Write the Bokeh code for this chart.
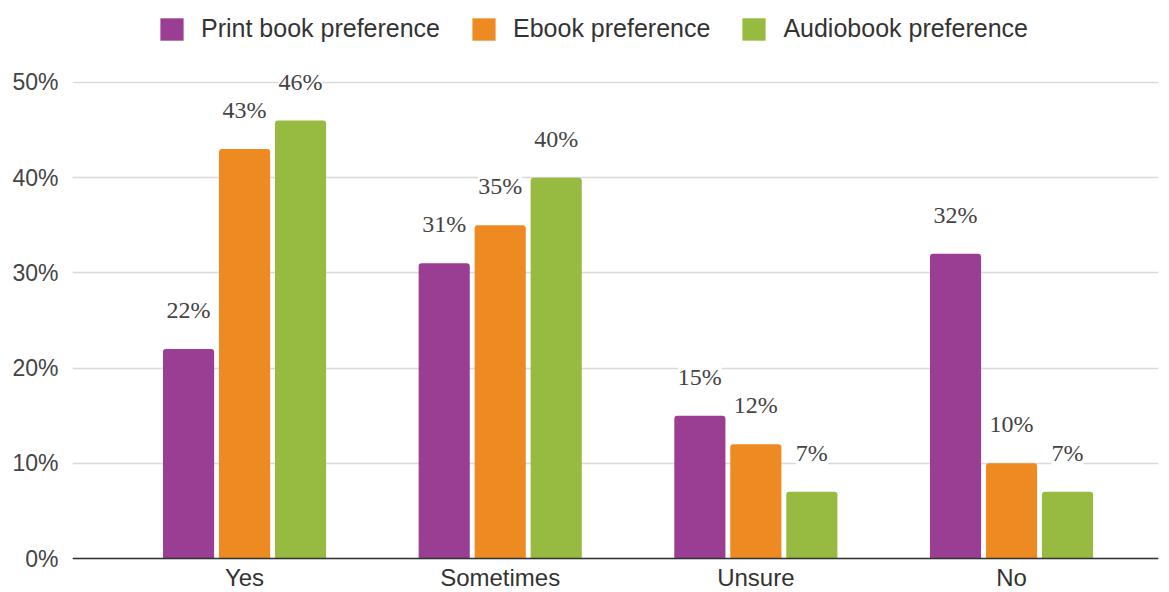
from bokeh.plotting import figure
from bokeh.models import (ColumnDataSource, Range1d, Legend, LegendItem, LabelSet,
                          FixedTicker, PrintfTickFormatter, Span)
from bokeh.core.properties import value
from bokeh.embed import file_html
from bokeh.resources import INLINE

# Survey answers and the share of respondents (percent) for each format
categories = ["Yes", "Sometimes", "Unsure", "No"]
print_pref = [22, 31, 15, 32]
ebook_pref = [43, 35, 12, 10]
audio_pref = [46, 40, 7, 7]
series_names = ["Print book preference", "Ebook preference", "Audiobook preference"]
colors = ["#993e93", "#ee8a22", "#96bb40"]
y_ticks = [0, 10, 20, 30, 40, 50]

W, H = 1169, 592
# The frame covers the whole height so the legend and category labels can live inside it
p = figure(width=W, height=H, output_backend="svg", toolbar_location=None,
           x_range=Range1d(-0.673, 3.575), y_range=Range1d(-3.571, 58.61),
           min_border_left=72, min_border_right=11, min_border_top=0,
           min_border_bottom=0)
p.outline_line_color = None
p.background_fill_color = "white"
p.border_fill_color = "white"

xs = list(range(len(categories)))
offsets = [-0.219, 0.0, 0.219]
renderers = []
for name, vals, col, off in zip(series_names, [print_pref, ebook_pref, audio_pref], colors, offsets):
    src = ColumnDataSource(dict(x=[x + off for x in xs], top=vals,
                                label=[f"{v}%" for v in vals]))
    r = p.vbar(x="x", top="top", width=0.2, source=src, fill_color=col,
               line_color=None, border_radius=[3, 3, 0, 0])
    renderers.append((name, r))
    labels = LabelSet(x="x", y="top", text="label", source=src,
                      text_align="center", text_baseline="middle", y_offset=39,
                      text_font=value("Liberation Serif"), text_font_size="24px",
                      text_color="#444444", background_fill_color="white")
    p.add_layout(labels)

# Baseline at 0%
p.add_layout(Span(location=0, dimension="width", line_color="#333333", line_width=1.5))

# Category names under each group
cat_src = ColumnDataSource(dict(x=xs, y=[0] * len(xs), text=categories))
p.add_layout(LabelSet(x="x", y="y", text="text", source=cat_src,
                      text_align="center", text_baseline="middle", y_offset=-19,
                      text_font=value("Liberation Sans"), text_font_size="24px",
                      text_color="#333333"))

p.xaxis.visible = False

p.yaxis.ticker = FixedTicker(ticks=y_ticks)
p.yaxis.formatter = PrintfTickFormatter(format="%d%%")
p.yaxis.axis_line_color = None
p.yaxis.major_tick_line_color = None
p.yaxis.major_tick_out = 0
p.yaxis.major_tick_in = 0
p.yaxis.minor_tick_line_color = None
p.yaxis.major_label_text_font = "Liberation Sans"
p.yaxis.major_label_text_font_size = "23px"
p.yaxis.major_label_text_color = "#444444"
p.yaxis.major_label_standoff = 14

p.xgrid.grid_line_color = None
p.ygrid.grid_line_color = "#d9d9d9"
p.ygrid.grid_line_width = 1.5

legend = Legend(items=[LegendItem(label=n, renderers=[r]) for n, r in renderers],
                orientation="horizontal", location=(85, 549),
                padding=0, margin=0, spacing=29, label_standoff=15,
                glyph_width=29, glyph_height=28,
                label_text_font="Liberation Sans", label_text_font_size="25px",
                label_text_color="#333333", border_line_color=None,
                background_fill_alpha=0)
p.add_layout(legend, "center")

open("out.html", "w").write(file_html(p, INLINE))
